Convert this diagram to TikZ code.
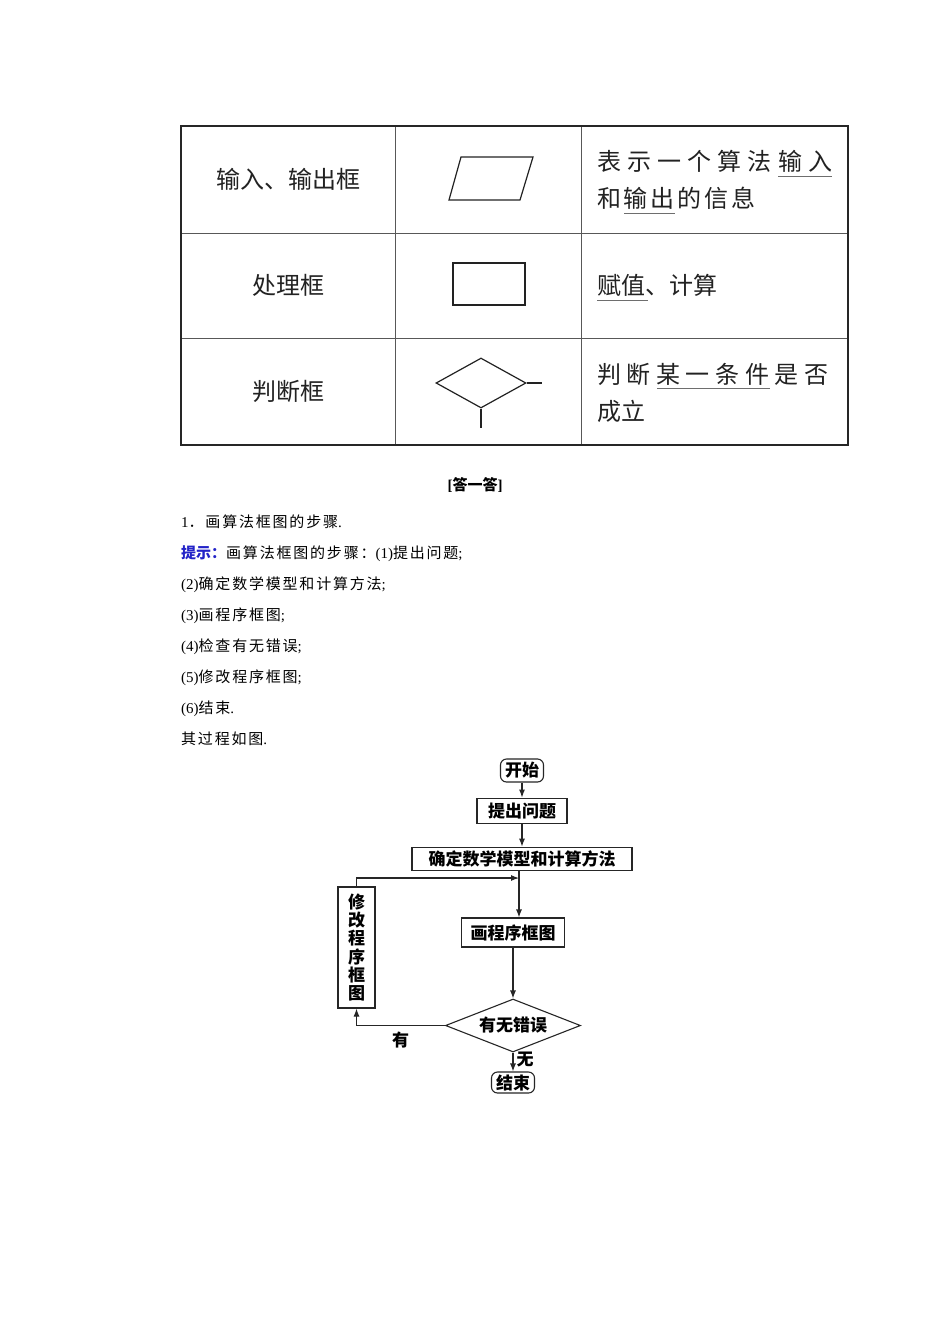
\documentclass[tikz,border=0pt]{standalone}
\usepackage{fontspec}
\setmainfont{Liberation Serif}
\newfontfamily\cjk{Noto Sans CJK SC}
\newfontfamily\cjkbody[LetterSpace=12]{Noto Sans CJK SC}
\usetikzlibrary{shapes.geometric, arrows.meta, positioning}
\definecolor{tipBlue}{RGB}{35,35,200}
\definecolor{tabInk}{RGB}{34,34,34}
\definecolor{ruleGray}{RGB}{110,110,110}

\begin{document}
\begin{tikzpicture}[x=1pt, y=-1pt,
    cell/.style={font=\fontsize{24}{28}\selectfont\cjk, text=tabInk, inner sep=0pt},
    desc/.style={font=\fontsize{24}{28}\selectfont\cjk, text=tabInk, inner sep=0pt, anchor=west},
    blank/.style={draw=ruleGray, line width=0.8pt},
    bodyline/.style={font=\fontsize{15}{18}\selectfont, inner sep=0pt, anchor=west, text height=11pt, text depth=3pt},
    box/.style={draw=black!85, line width=1.1pt, inner sep=2pt, font=\fontsize{17}{18.3}\selectfont\cjk\bfseries},
    term/.style={box, rounded corners=6pt},
    arr/.style={-{Latex[length=8pt,width=6pt]}, line width=1.1pt, draw=black!85},
    lbl/.style={font=\fontsize{17}{18}\selectfont\cjk\bfseries, inner sep=1pt}
  ]
  \fill[white] (0,0) rectangle (950,1344);
  \useasboundingbox (0,0) rectangle (950,1344);

  % table of frame symbols
  \draw[draw=ruleGray!80!black, line width=0.9pt] (395,126) -- (395,445) (581,126) -- (581,445)
    (181,233) -- (848,233) (181,338) -- (848,338);
  \draw[line width=1.6pt, draw=black!85] (181,126) rectangle (848,445);

  \node[cell] (io) at (288,179) {输入、输出框};
  \node[cell] (proc) at (288,285) {处理框};
  \node[cell] (judge) at (288,391) {判断框};

  \draw[line width=1.2pt, tabInk] (449,200) -- (461,157) -- (533,157) -- (520,200) -- cycle;
  \node[draw=tabInk, line width=1.2pt, minimum width=72pt, minimum height=42pt, inner sep=0pt] (rect) at (489,284) {};
  \node[diamond, draw=tabInk, line width=1.2pt, minimum width=90pt, minimum height=50pt, inner sep=0pt] (dia) at (481,383) {};
  \draw[line width=1.2pt, tabInk] (dia.east) -- ++(15,0) (dia.south) -- ++(0,19);

  \node[desc] (io1) at (597,161) {\makebox[235pt][s]{表\hfill 示\hfill 一\hfill 个\hfill 算\hfill 法\hfill 输\hfill 入}};
  \node[desc] (io2) at (597,198) {\makebox[158pt][s]{和\hfill 输\hfill 出\hfill 的\hfill 信\hfill 息}};
  \node[desc] (proc1) at (597,285) {赋值、计算};
  \node[desc] (judge1) at (597,374) {\makebox[231pt][s]{判\hfill 断\hfill 某\hfill 一\hfill 条\hfill 件\hfill 是\hfill 否}};
  \node[desc] (judge2) at (597,411) {成立};
  \draw[blank] (778,176) -- (832,176) (624,213) -- (675,213) (597,300) -- (648,300) (657,388) -- (770,388);

  % answer text
  \node[font=\fontsize{15}{18}\selectfont\bfseries] (ask) at (475,485) {[{\cjk 答一答}]};
  \node[bodyline] (s1) at (181,523) {1{\cjkbody ．画算法框图的步骤}.};
  \node[bodyline, below=31pt of s1.west, anchor=west] (s2) {{\color{tipBlue}\cjk\bfseries 提示：}{\cjkbody 画算法框图的步骤：}(1){\cjkbody 提出问题};};
  \node[bodyline, below=31pt of s2.west, anchor=west] (s3) {(2){\cjkbody 确定数学模型和计算方法};};
  \node[bodyline, below=31pt of s3.west, anchor=west] (s4) {(3){\cjkbody 画程序框图};};
  \node[bodyline, below=31pt of s4.west, anchor=west] (s5) {(4){\cjkbody 检查有无错误};};
  \node[bodyline, below=31pt of s5.west, anchor=west] (s6) {(5){\cjkbody 修改程序框图};};
  \node[bodyline, below=31pt of s6.west, anchor=west] (s7) {(6){\cjkbody 结束}.};
  \node[bodyline, below=31pt of s7.west, anchor=west] (s8) {{\cjkbody 其过程如图}.};

  % flowchart
  \node[term, minimum width=43pt, minimum height=23pt] (start) at (522,770.5) {开始};
  \node[box, minimum width=90pt, minimum height=25pt, below=15pt of start] (pose) {提出问题};
  \node[box, minimum width=220pt, minimum height=23pt, below=23pt of pose] (model) {确定数学模型和计算方法};
  \coordinate (merge) at (519,878);
  \node[box, minimum width=103pt, minimum height=29pt] (draft) at (513,932.5) {画程序框图};
  \node[diamond, box, aspect=2.5, inner sep=0pt, minimum width=135pt, minimum height=53pt] (check) at (513,1025.5) {有无错误};
  \node[term, minimum width=43pt, minimum height=21pt] (finish) at (513,1082.5) {结束};
  \node[box, minimum width=37pt, minimum height=121pt, align=center, inner sep=0pt] (revise) at (356.5,947.5) {修\\改\\程\\序\\框\\图};

  \draw[arr] (start) -- (pose);
  \draw[arr] (pose) -- (model);
  \draw[arr] (model.south -| merge) -- (draft.north -| merge);
  \draw[arr] (revise.north) |- (merge);
  \draw[arr] (draft) -- (check);
  \draw[arr] (check.west) -| node[lbl, pos=0.25, below=5pt] (yes) {有} (revise.south);
  \draw[arr] (check) -- node[lbl, right=2pt, pos=0.35] (no) {无} (finish);
\end{tikzpicture}
\end{document}
